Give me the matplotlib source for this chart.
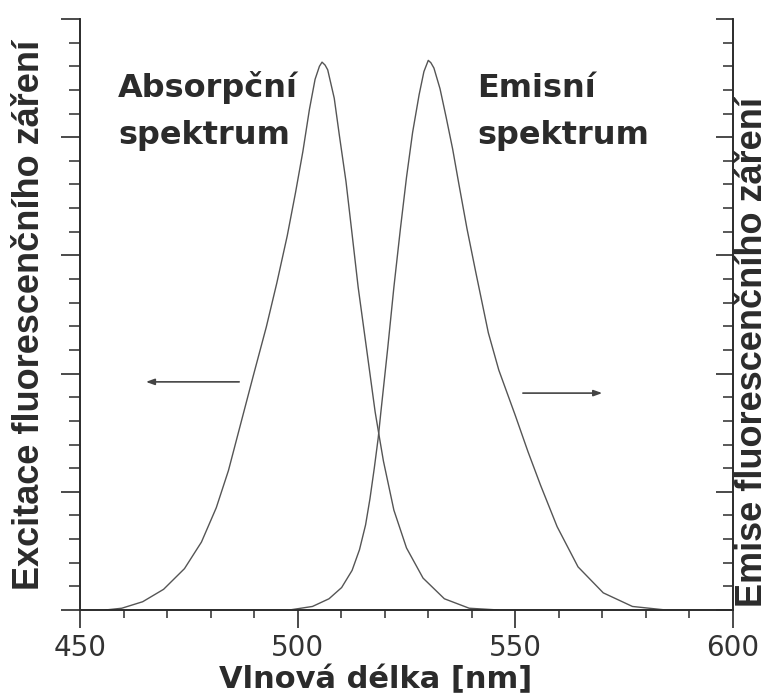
import matplotlib
matplotlib.use("Agg")
import matplotlib.pyplot as plt
from matplotlib.ticker import MultipleLocator, NullFormatter

# absorpcni spektrum (relativni intenzita 0..1 vysky osy)
abs_nm = [455.8, 459.6, 464.4, 469.2, 474.0, 477.9, 481.3, 484.1, 487.3, 489.9,
          492.8, 495.2, 497.6, 499.5, 501.2, 502.7, 504.0, 505.0, 505.6, 506.3,
          506.9, 508.4, 509.6, 511.1, 512.5, 513.9, 515.9, 517.8, 518.8, 519.7,
          522.1, 525.0, 528.8, 533.7, 539.4, 546.2]
abs_val = [0.0, 0.003, 0.014, 0.035, 0.070, 0.115, 0.173, 0.236, 0.326, 0.399,
           0.479, 0.553, 0.633, 0.706, 0.776, 0.847, 0.898, 0.920, 0.927, 0.922,
           0.914, 0.866, 0.802, 0.725, 0.636, 0.546, 0.438, 0.335, 0.291, 0.252,
           0.169, 0.105, 0.054, 0.019, 0.003, 0.0]

# emisni spektrum
em_nm = [498.1, 503.4, 507.2, 510.1, 512.5, 514.2, 515.6, 516.6, 517.6, 518.5,
         519.1, 520.7, 522.1, 523.6, 525.0, 526.4, 527.9, 529.0, 530.0, 530.6,
         531.3, 532.7, 534.1, 535.6, 537.0, 538.9, 540.9, 543.8, 546.2, 550.0,
         552.9, 555.8, 559.6, 564.4, 570.2, 576.9, 584.6]
em_val = [0.0, 0.006, 0.019, 0.038, 0.067, 0.102, 0.144, 0.188, 0.240, 0.291,
          0.334, 0.444, 0.546, 0.645, 0.732, 0.808, 0.872, 0.911, 0.930, 0.926,
          0.917, 0.882, 0.834, 0.780, 0.722, 0.645, 0.572, 0.469, 0.406, 0.329,
          0.268, 0.211, 0.141, 0.073, 0.029, 0.006, 0.0]

x_ticks = [450, 500, 550, 600]

ink = "#2b2b2b"
line_c = "#555555"

fig = plt.figure(figsize=(7.78, 6.95), dpi=100)
ax = fig.add_axes([80/778, 85/695, 653/778, 591/695])
ax2 = ax.twinx()

ax.plot(abs_nm, abs_val, color=line_c, lw=1.0)
ax2.plot(em_nm, em_val, color=line_c, lw=1.0)

for a in (ax, ax2):
    a.set_xlim(450, 600)
    a.set_ylim(0, 1)
    a.spines["top"].set_visible(False)
    for s in ("left", "right", "bottom"):
        a.spines[s].set_linewidth(1.2)
        a.spines[s].set_color(ink)
    a.yaxis.set_major_locator(MultipleLocator(0.2))
    a.yaxis.set_minor_locator(MultipleLocator(0.04))
    a.yaxis.set_major_formatter(NullFormatter())

ax.set_xticks(x_ticks)
ax.xaxis.set_minor_locator(MultipleLocator(10))
ax.tick_params(axis="x", which="major", direction="out", length=13, width=1.2,
               color=ink, pad=4, labelsize=20, labelcolor="#333333")
ax.tick_params(axis="x", which="minor", direction="out", length=6, width=1.1, color=ink)
for lab in ax.get_xticklabels():
    lab.set_family("DejaVu Sans")

ax.tick_params(axis="y", which="major", direction="out", length=14, width=1.2,
               color=ink, left=True, right=False)
ax.tick_params(axis="y", which="minor", direction="out", length=8, width=1.1,
               color=ink, left=True, right=False)
ax2.tick_params(axis="y", which="major", direction="in", length=12, width=1.2,
                color=ink, left=False, right=True)
ax2.tick_params(axis="y", which="minor", direction="in", length=7, width=1.1,
                color=ink, left=False, right=True)

# popisky os
ax.text(0.4525, -0.132, "Vlnová délka [nm]", transform=ax.transAxes,
        ha="center", va="baseline", fontsize=22, fontweight="bold",
        family="DejaVu Sans", color=ink)
ax.text(-0.0766, 0.499, "Excitace fluorescenčního záření", transform=ax.transAxes,
        rotation=90, ha="center", va="center", fontsize=26, fontweight="bold",
        family="Liberation Sans", color=ink)
ax.text(1.0306, 0.4365, "Emise fluorescenčního záření", transform=ax.transAxes,
        rotation=90, ha="center", va="center", fontsize=26, fontweight="bold",
        family="Liberation Sans", color=ink)

# nazvy spekter
for x0, words in ((0.0582, ("Absorpční", "spektrum")), (0.608, ("Emisní", "spektrum"))):
    ax.text(x0, 0.868, words[0], transform=ax.transAxes, ha="left", va="baseline",
            fontsize=23, fontweight="bold", family="DejaVu Sans", color=ink)
    ax.text(x0, 0.7885, words[1], transform=ax.transAxes, ha="left", va="baseline",
            fontsize=23, fontweight="bold", family="DejaVu Sans", color=ink)

# sipky ke spravne ose
ax.annotate("", xy=(464.5, 0.386), xytext=(487.2, 0.386),
            arrowprops=dict(arrowstyle="-|>,head_length=0.5,head_width=0.18",
                            color="#444444", lw=1.2))
ax.annotate("", xy=(570.6, 0.367), xytext=(551.1, 0.367),
            arrowprops=dict(arrowstyle="-|>,head_length=0.5,head_width=0.18",
                            color="#444444", lw=1.2))

fig.savefig("out.png", dpi=100)
